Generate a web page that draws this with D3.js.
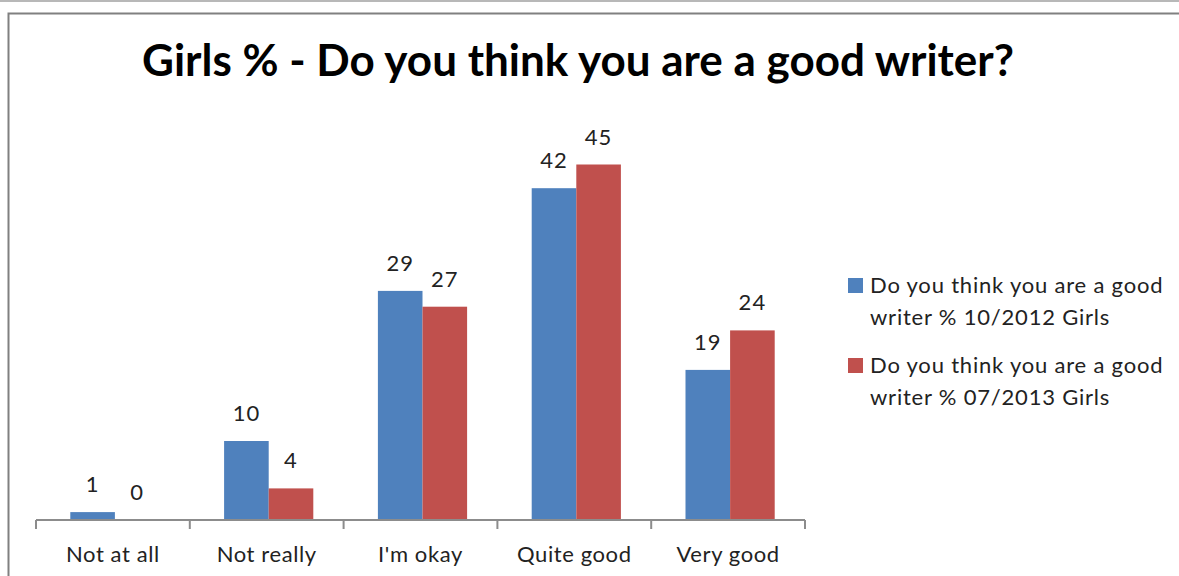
<!DOCTYPE html>
<html>
<head>
<meta charset="utf-8">
<script src="https://cdn.jsdelivr.net/npm/d3@7"></script>
<style>
  body { margin: 0; background: #fff; }
  text { font-family: Lato, "Open Sans", sans-serif; }
</style>
</head>
<body>
<script>
var width = 1179,
    height = 576;

// data
var categories = ["Not at all", "Not really", "I'm okay", "Quite good", "Very good"];
var seriesNames = ["Do you think you are a good writer % 10/2012 Girls",
                   "Do you think you are a good writer % 07/2013 Girls"];
var values2012 = [1, 10, 29, 42, 19];
var values2013 = [0, 4, 27, 45, 24];
var colors = ["#4f81bd", "#c0504d"];

var svg = d3.select("body").append("svg")
    .attr("width", width)
    .attr("height", height);

// outer frame lines
svg.append("line")
    .attr("x1", 0).attr("x2", width).attr("y1", 1).attr("y2", 1)
    .style("stroke", "#a0a0a0").style("stroke-width", 1.5);
svg.append("path")
    .attr("d", "M8.5," + height + "V13.5H" + width)
    .style("fill", "none").style("stroke", "#808080").style("stroke-width", 2);

svg.append("text")
    .attr("x", 578)
    .attr("y", 76)
    .attr("text-anchor", "middle")
    .style("font-size", "44px")
    .style("font-weight", "bold")
    .text("Girls % - Do you think you are a good writer?");

var x0 = d3.scaleBand()
    .domain(categories)
    .range([36, 805])
    .paddingInner(0.42)
    .paddingOuter(0.21);

var x1 = d3.scaleBand()
    .domain([0, 1])
    .range([0, x0.bandwidth()]);

var y = d3.scaleLinear()
    .domain([0, 50])
    .range([520, 125]);

var rows = categories.map(function(c, i) {
  return { cat: c, vals: [values2012[i], values2013[i]] };
});

var groups = svg.append("g").attr("class", "bars")
  .selectAll("g")
  .data(rows)
  .enter().append("g")
    .attr("transform", function(d) { return "translate(" + (x0(d.cat) + 2) + ",0)"; });

var bars = groups.selectAll("g")
  .data(function(d) { return d.vals.map(function(v, k) { return { k: k, v: v }; }); })
  .enter();

bars.append("rect")
    .attr("x", function(d) { return x1(d.k); })
    .attr("y", function(d) { return y(d.v); })
    .attr("width", x1.bandwidth())
    .attr("height", function(d) { return y(0) - y(d.v); })
    .style("fill", function(d) { return colors[d.k]; });

bars.append("text")
    .attr("x", function(d) { return x1(d.k) + x1.bandwidth() / 2; })
    .attr("y", function(d) { return y(d.v) - 20; })
    .attr("text-anchor", "middle")
    .style("font-size", "22px")
    .style("letter-spacing", "1px")
    .style("fill", "#222")
    .text(function(d) { return d.v; });

// category axis
var axis = svg.append("g")
    .attr("transform", "translate(0,520)")
    .call(d3.axisBottom(x0).tickSize(0).tickPadding(26));
axis.select(".domain").remove();
axis.selectAll("text")
    .style("font-size", "22px")
    .style("letter-spacing", "0.6px")
    .style("fill", "#222")
    .style("font-family", "Lato, sans-serif");

var edges = d3.range(categories.length + 1).map(function(i) {
  return x0.range()[0] + i * x0.step();
});
axis.append("line")
    .attr("x1", 36).attr("x2", 805)
    .style("stroke", "#8c8c8c").style("stroke-width", 2);
axis.selectAll("line.edge")
  .data(edges)
  .enter().append("line")
    .attr("class", "edge")
    .attr("x1", function(d) { return d; })
    .attr("x2", function(d) { return d; })
    .attr("y1", 0).attr("y2", 9)
    .style("stroke", "#8c8c8c").style("stroke-width", 2);

// legend
var legend = svg.append("g").attr("class", "legend")
  .selectAll("g")
  .data(seriesNames)
  .enter().append("g")
    .attr("transform", function(d, i) { return "translate(848," + (278 + i * 80) + ")"; });

legend.append("rect")
    .attr("width", 15).attr("height", 15)
    .style("fill", function(d, i) { return colors[i]; });

legend.append("text")
    .attr("x", 22)
    .attr("y", 15)
    .style("font-size", "22px")
    .style("letter-spacing", "0.8px")
    .style("fill", "#222")
    .each(function(d) {
      var words = d.split(" ");
      var t = d3.select(this);
      t.append("tspan").attr("x", 22).text(words.slice(0, 7).join(" "));
      t.append("tspan").attr("x", 22).attr("dy", 32).text(words.slice(7).join(" "));
    });
</script>
</body>
</html>
